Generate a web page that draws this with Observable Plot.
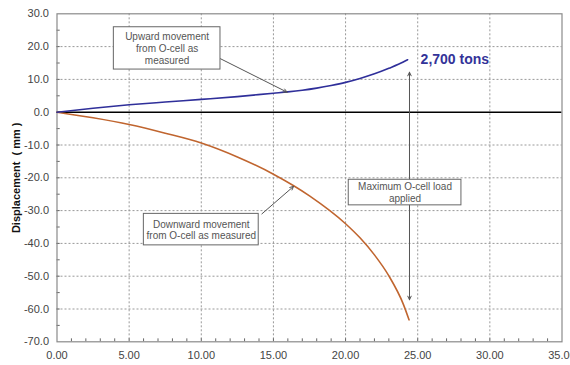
<!DOCTYPE html>
<html>
<head>
<meta charset="utf-8">
<script src="https://cdn.jsdelivr.net/npm/d3@7"></script>
<script src="https://cdn.jsdelivr.net/npm/@observablehq/plot@0.6"></script>
<style>
  html, body { margin: 0; padding: 0; background: #fff; }
  #chart svg { font-family: "Liberation Sans", Arial, sans-serif; }
  #chart [aria-label="y-axis label"] text { font-weight: bold; fill: #111; }
</style>
</head>
<body>
<div id="chart"></div>
<script>
// Load applied (x) and displacement (y)
const upX   = [0, 2.5, 5, 7.5, 10, 12.5, 15, 16, 17, 18, 19, 20, 21, 22, 23, 24, 24.3];
const upY   = [0, 1.2, 2.25, 3.1, 3.9, 4.75, 5.8, 6.2, 6.7, 7.35, 8.15, 9.1, 10.3, 11.7, 13.4, 15.3, 16.0];
const downX = [0, 2.5, 5, 7.5, 10, 12.5, 15, 17.5, 20, 21, 22, 23, 24, 24.4];
const downY = [0, -1.7, -3.75, -6.4, -9.4, -13.65, -18.9, -25.5, -34.0, -38.3, -43.5, -49.9, -58.5, -63.3];

const xTicks = [0, 5, 10, 15, 20, 25, 30, 35];
const yTicks = [30, 20, 10, 0, -10, -20, -30, -40, -50, -60, -70];
const yTitle = "Displacement  ( mm )";

// Annotation texts and their anchor positions (data units)
const noteText = ["Upward movement\nfrom O-cell as\nmeasured", "Maximum O-cell load\napplied", "Downward movement\nfrom O-cell as measured"];
const noteX = [7.63, 24.12, 10.0];
const noteY = [19.45, -24.5, -35.8];
const boxX1 = [3.94, 20.22, 6.02];
const boxX2 = [11.33, 28.03, 13.98];
const boxY1 = [13.0, -28.4, -40.6];
const boxY2 = [25.9, -20.6, -31.0];
const arrowFromX = [11.33, 14.2, 24.43, 24.43];
const arrowFromY = [16.3, -31.0, -24.5, -24.5];
const arrowToX   = [15.95, 16.4, 24.43, 24.43];
const arrowToY   = [6.1, -22.6, 12.2, -57.2];
const loadLabel = "2,700 tons";
const loadLabelX = 25.2;
const loadLabelY = 16.2;

const up = upX.map((x, i) => ({x, y: upY[i]}));
const down = downX.map((x, i) => ({x, y: downY[i]}));
const notes = noteText.map((t, i) => ({t, x: noteX[i], y: noteY[i], x1: boxX1[i], x2: boxX2[i], y1: boxY1[i], y2: boxY2[i]}));
const arrows = arrowFromX.map((x1, i) => ({x1, y1: arrowFromY[i], x2: arrowToX[i], y2: arrowToY[i]}));
const minorX = d3.range(1, 35);
const minorY = d3.range(-65, 30, 5);

const chart = Plot.plot({
  width: 570,
  height: 365,
  marginLeft: 56.5,
  marginRight: 8.5,
  marginTop: 13.3,
  marginBottom: 23.7,
  style: {fontSize: "11px", color: "#333", background: "#fff"},
  x: {domain: [0, 35]},
  y: {domain: [-70, 30]},
  marks: [
    Plot.gridX(xTicks.slice(1, -1), {stroke: "#999", strokeOpacity: 1, strokeDasharray: "2,2"}),
    Plot.gridY(yTicks.filter(d => d !== 0 && d !== 30 && d !== -70), {stroke: "#999", strokeOpacity: 1, strokeDasharray: "2,2"}),
    Plot.ruleX(minorX, {y1: -70, y2: -69.1, stroke: "#666"}),
    Plot.ruleY(minorY, {x1: 0, x2: 0.22, stroke: "#666"}),
    Plot.ruleY([0], {stroke: "#000", strokeWidth: 1.4}),
    Plot.frame({stroke: "#8a8a8a", strokeWidth: 1.2}),
    Plot.axisX({ticks: xTicks, tickSize: 0, tickPadding: 9, tickFormat: d => d.toFixed(2), label: null, fill: "#444"}),
    Plot.axisY({ticks: yTicks, tickSize: 0, tickPadding: 8, tickFormat: d => d.toFixed(1), fill: "#444",
      label: yTitle, labelAnchor: "center", labelArrow: "none", labelOffset: 45}),
    Plot.line(down, {x: "x", y: "y", stroke: "#c0652f", strokeWidth: 1.6, curve: "monotone-x"}),
    Plot.line(up, {x: "x", y: "y", stroke: "#2f2f9a", strokeWidth: 1.6, curve: "monotone-x"}),
    Plot.arrow(arrows, {x1: "x1", y1: "y1", x2: "x2", y2: "y2", stroke: "#555", strokeWidth: 1, headLength: 6, headAngle: 50}),
    Plot.rect(notes, {x1: "x1", x2: "x2", y1: "y1", y2: "y2", fill: "#fff", stroke: "#666", strokeWidth: 1}),
    Plot.text(notes, {x: "x", y: "y", text: "t", fill: "#555", fontSize: 10, lineHeight: 1.18}),
    Plot.text([loadLabel], {x: loadLabelX, y: loadLabelY, text: d => d, textAnchor: "start", fill: "#333399", fontSize: 14, fontWeight: "bold"})
  ]
});
document.getElementById("chart").append(chart);
</script>
</body>
</html>
